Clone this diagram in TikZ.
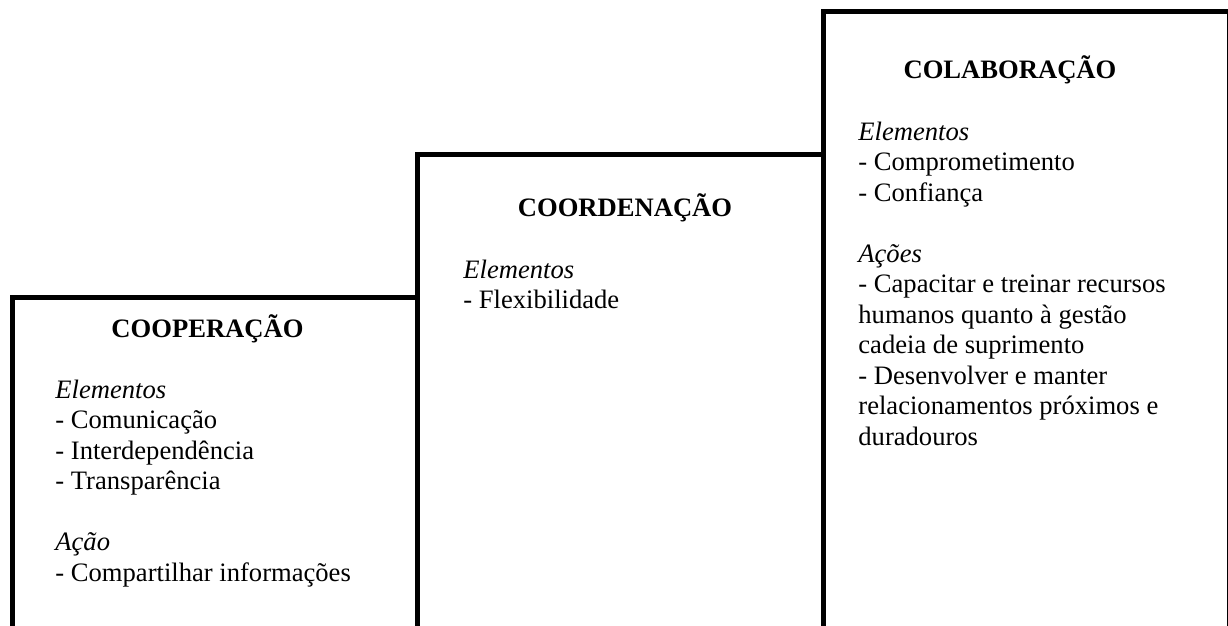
\documentclass[tikz,border=0pt]{standalone}
\usepackage{fontspec}
\setmainfont{Liberation Serif}
\begin{document}
\begin{tikzpicture}[x=0.5pt,y=-0.5pt,
  stair/.style={line width=2.5pt,line join=miter},
  head/.style={anchor=base,inner sep=0pt,font=\fontsize{13.3}{15.25}\selectfont\bfseries},
  body/.style={anchor=north west,inner sep=0pt,align=left,font=\fontsize{13.3}{15.25}\selectfont}]
\useasboundingbox (0,0) rectangle (1228,626);
% staircase boxes (open at the bottom)
\draw[stair] (12,640) -- (12,298) -- (417,298);
\draw[stair] (417,640) -- (417,155) -- (823,155);
\draw[stair] (823,640) -- (823,12) -- (1229.5,12) -- (1229.5,640);
% texts
\node[head] (h1) at (207.5,337) {COOPERAÇÃO};
\node[body] (b1) at (55,374) {\rule{0pt}{12pt}\textit{Elementos}\\- Comunicação\\- Interdependência\\- Transparência\\[15.25pt]\textit{Ação}\\- Compartilhar informações};
\node[head] (h2) at (625,217) {COORDENAÇÃO};
\node[body] (b2) at (463,254) {\rule{0pt}{12pt}\textit{Elementos}\\- Flexibilidade};
\node[head] (h3) at (1010,79) {COLABORAÇÃO};
\node[body] (b3) at (858,116) {\rule{0pt}{12pt}\textit{Elementos}\\- Comprometimento\\- Confiança\\[15.25pt]\textit{Ações}\\- Capacitar e treinar recursos\\humanos quanto à gestão\\cadeia de suprimento\\- Desenvolver e manter\\relacionamentos próximos e\\duradouros};
\end{tikzpicture}
\end{document}
